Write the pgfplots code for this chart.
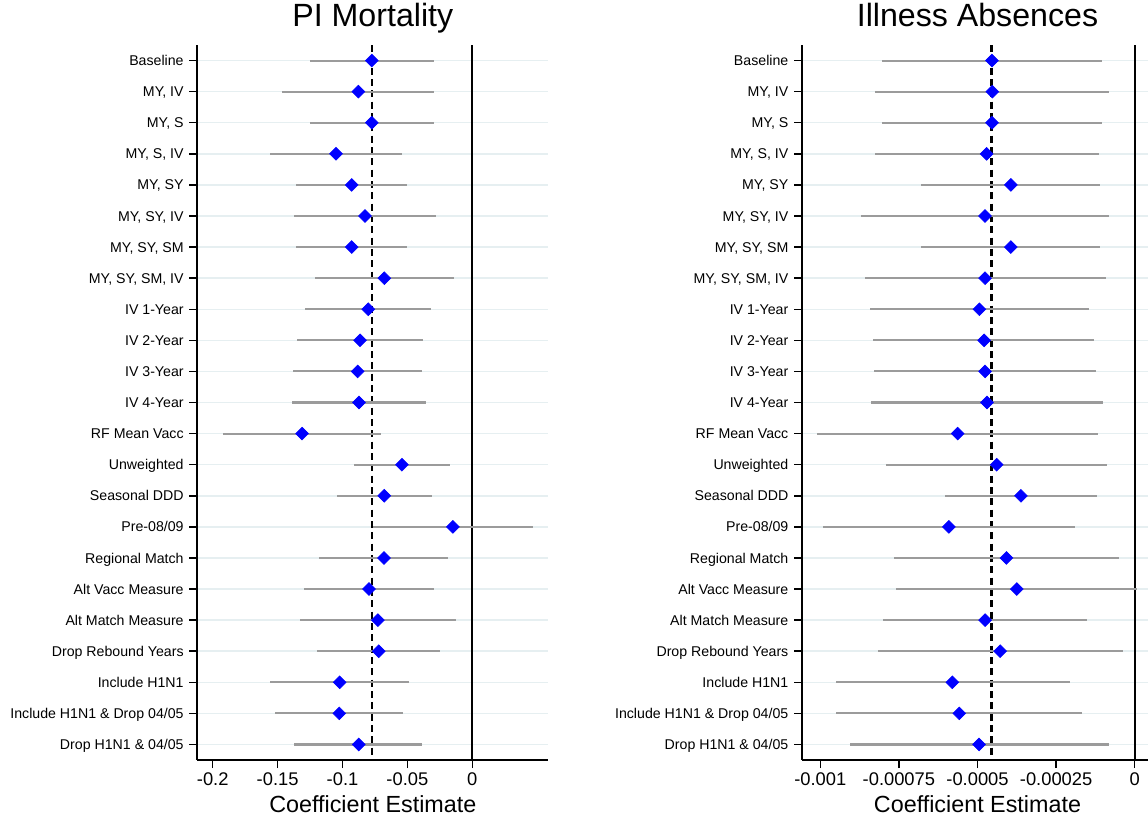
\documentclass[border=0pt]{standalone}
\usepackage{fontspec}
\setmainfont{Liberation Sans}
\usepackage{pgfplots}
\pgfplotsset{compat=1.18}
\usepackage{pgfplotstable}

\definecolor{cigray}{RGB}{155,155,155}
\definecolor{gridc}{RGB}{230,239,241}
\definecolor{mkblue}{RGB}{0,0,255}

\pgfplotstableread{
row est lo hi
1 -0.0774 -0.1250 -0.0295
2 -0.0878 -0.1466 -0.0293
3 -0.0774 -0.1250 -0.0295
4 -0.1050 -0.1559 -0.0539
5 -0.0929 -0.1358 -0.0501
6 -0.0827 -0.1370 -0.0282
7 -0.0929 -0.1358 -0.0501
8 -0.0678 -0.1212 -0.0143
9 -0.0801 -0.1287 -0.0316
10 -0.0865 -0.1348 -0.0382
11 -0.0883 -0.1379 -0.0385
12 -0.0873 -0.1391 -0.0359
13 -0.1312 -0.1918 -0.0706
14 -0.0542 -0.0909 -0.0172
15 -0.0678 -0.1040 -0.0313
16 -0.0149 -0.0767 0.0470
17 -0.0680 -0.1181 -0.0185
18 -0.0796 -0.1299 -0.0293
19 -0.0727 -0.1325 -0.0128
20 -0.0721 -0.1196 -0.0247
21 -0.1022 -0.1561 -0.0485
22 -0.1025 -0.1520 -0.0532
23 -0.0875 -0.1370 -0.0390
}\mortdata

\pgfplotstableread{
row est lo hi
1 -0.000454 -0.000804 -0.000104
2 -0.000453 -0.000825 -0.000081
3 -0.000454 -0.000804 -0.000104
4 -0.000471 -0.000827 -0.000115
5 -0.000394 -0.000679 -0.000110
6 -0.000476 -0.000872 -0.000081
7 -0.000394 -0.000679 -0.000110
8 -0.000476 -0.000858 -0.000092
9 -0.000494 -0.000843 -0.000144
10 -0.000479 -0.000831 -0.000128
11 -0.000476 -0.000829 -0.000123
12 -0.000470 -0.000840 -0.000101
13 -0.000563 -0.001010 -0.000117
14 -0.000439 -0.000791 -0.000087
15 -0.000362 -0.000602 -0.000121
16 -0.000591 -0.000990 -0.000190
17 -0.000408 -0.000767 -0.000050
18 -0.000375 -0.000758 0.000008
19 -0.000476 -0.000800 -0.000153
20 -0.000428 -0.000815 -0.000038
21 -0.000580 -0.000951 -0.000206
22 -0.000558 -0.000949 -0.000169
23 -0.000495 -0.000906 -0.000083
}\illdata

\pgfplotsset{
  coefstyle/.style={
    scale only axis, width=210.6pt, height=429pt,
    anchor=south west,
    axis x line*=bottom, axis y line*=left,
    axis line style={line width=1.1pt, black},
    ymin=0.5, ymax=23.5, y dir=reverse,
    ytick={1,...,23},
    yticklabels={Baseline,{MY, IV},{MY, S},{MY, S, IV},{MY, SY},{MY, SY, IV},{MY, SY, SM},{MY, SY, SM, IV},IV 1-Year,IV 2-Year,IV 3-Year,IV 4-Year,RF Mean Vacc,Unweighted,Seasonal DDD,Pre-08/09,Regional Match,Alt Vacc Measure,Alt Match Measure,Drop Rebound Years,Include H1N1,Include H1N1 \& Drop 04/05,Drop H1N1 \& 04/05},
    tick align=outside, major tick length=4.8pt,
    tick style={line width=0.9pt, black},
    ymajorgrids, grid style={gridc, line width=0.9pt},
    /pgf/number format/assume math mode=true,
    scaled x ticks=false,
    yticklabel style={font=\fontsize{8.5}{10}\selectfont, anchor=base east, inner sep=0pt, xshift=-3.2pt, yshift=-3.04pt},
    xticklabel style={font=\fontsize{11}{13}\selectfont, anchor=base, inner sep=0pt, yshift=-10.5pt},
    title style={font=\fontsize{19.3}{22}\selectfont, at={(axis description cs:0.5,1)}, anchor=base, inner sep=0pt, yshift=5.4pt},
    xlabel style={font=\fontsize{14}{16}\selectfont, at={(axis description cs:0.5,0)}, anchor=base, inner sep=0pt, yshift=-31.2pt},
    xlabel={Coefficient Estimate},
  },
  cibars/.style={only marks, mark=none, forget plot,
    error bars/.cd, x dir=both, x explicit, error mark=none,
    error bar style={line width=1.25pt, cigray}},
  diam/.style={only marks, mark=square*, mark size=2.7pt,
    mark options={rotate=45, fill=mkblue, draw=mkblue, line width=0.4pt}},
}

\begin{document}
\begin{tikzpicture}
\begin{axis}[coefstyle, at={(118.38pt,34.8pt)},
  title={PI Mortality},
  xmin=-0.2119, xmax=0.0586,
  xtick={-0.2,-0.15,-0.1,-0.05,0},
  xticklabels={-0.2,-0.15,-0.1,-0.05,0}]
\addplot[black, line width=1.5pt, dash pattern=on 4.2pt off 2.6pt] coordinates {(-0.0773,0.5) (-0.0773,23.5)};
\addplot[black, line width=1.3pt] coordinates {(0,0.5) (0,23.5)};
\addplot[cibars] table[x=est, y=row, x error minus expr=\thisrow{est}-\thisrow{lo}, x error plus expr=\thisrow{hi}-\thisrow{est}] {\mortdata};
\addplot[diam] table[x=est, y=row] {\mortdata};
\end{axis}

\begin{axis}[coefstyle, at={(481.2pt,34.8pt)},
  title={Illness Absences},
  xmin=-0.0010582, xmax=0.0000582,
  xtick={-0.001,-0.00075,-0.0005,-0.00025,0},
  xticklabels={-0.001,-0.00075,-0.0005,-0.00025,0}]
\addplot[black, line width=1.5pt, dash pattern=on 4.2pt off 2.6pt] coordinates {(-0.000456,0.5) (-0.000456,23.5)};
\addplot[black, line width=1.3pt] coordinates {(0,0.5) (0,23.5)};
\addplot[cibars] table[x=est, y=row, x error minus expr=\thisrow{est}-\thisrow{lo}, x error plus expr=\thisrow{hi}-\thisrow{est}] {\illdata};
\addplot[diam] table[x=est, y=row] {\illdata};
\end{axis}
\pgfresetboundingbox
\path[use as bounding box] (0,0) rectangle (688.8pt,490.8pt);
\end{tikzpicture}
\end{document}
